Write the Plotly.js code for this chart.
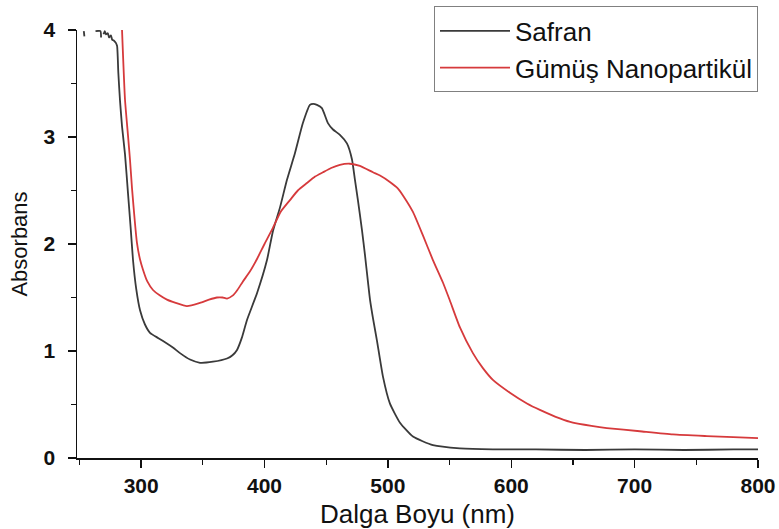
<!DOCTYPE html>
<html>
<head>
<meta charset="utf-8">
<script src="https://cdn.plot.ly/plotly-3.0.1.min.js"></script>
<style>html,body{margin:0;padding:0;background:#fff;}#chart{width:779px;height:529px;}</style>
</head>
<body>
<div id="chart"></div>
<script>
// Safran spectrum (wavelength nm, absorbance); null = gap in the saturated noisy region
const safranWl = [253.5, 254, 255, 263, 267, 267.5, 268.5, 269.5, 270.5, 271.5, 273, 274, 275.5, 276.5, 278, 279.5, 280.5, 281.5, 282.8, 284.5, 286.9, 289.3, 291.5, 293.4, 296, 299.1, 303, 307.2, 314, 320.9, 326, 331.5, 339.6, 347.7, 358.2, 369.6, 374, 377.7, 381.5, 385.8, 393.9, 402, 406.8, 412.5, 418.2, 424.7, 431.1, 436.8, 439.5, 442.5, 446.5, 451.4, 455.5, 461.1, 466.8, 470.9, 473.3, 475.7, 479, 481.4, 483.8, 485.5, 488, 491.1, 496, 501.6, 509.8, 520.3, 536.5, 558.4, 585.1, 620, 660, 700, 740, 780, 800];
const safranAbs = [3.99, 3.94, null, 3.99, 3.99, 3.93, null, 3.96, 3.99, 3.96, 3.97, 3.93, 3.95, 3.91, 3.90, 3.88, 3.85, 3.60, 3.35, 3.10, 2.84, 2.48, 2.15, 1.85, 1.58, 1.38, 1.25, 1.17, 1.12, 1.07, 1.03, 0.98, 0.92, 0.89, 0.90, 0.93, 0.96, 1.01, 1.12, 1.29, 1.54, 1.85, 2.12, 2.34, 2.60, 2.85, 3.13, 3.30, 3.31, 3.30, 3.27, 3.13, 3.07, 3.02, 2.94, 2.79, 2.60, 2.41, 2.13, 1.90, 1.65, 1.48, 1.30, 1.10, 0.76, 0.51, 0.33, 0.20, 0.12, 0.09, 0.08, 0.08, 0.075, 0.08, 0.075, 0.08, 0.08];

// Gümüş Nanopartikül spectrum
const agWl = [284.5, 286.9, 289.3, 291, 292.6, 294.8, 296.6, 299, 301.5, 305, 309.6, 315, 320.9, 328, 337.1, 347.7, 355, 361.5, 366, 369.6, 374.4, 378, 382.5, 388, 393.9, 400, 406.8, 413, 420.6, 427, 434.4, 441, 447.4, 454, 461.1, 469.2, 477.3, 487.9, 493.6, 501.6, 508, 513, 520.3, 528.4, 536.5, 544.6, 550.3, 558.4, 568.9, 577, 585.1, 598.9, 612.7, 623.2, 639.4, 649.9, 665, 677.5, 704.2, 731, 758.5, 780, 800];
const agAbs = [4.0, 3.35, 3.02, 2.78, 2.52, 2.22, 2.01, 1.86, 1.76, 1.65, 1.57, 1.52, 1.48, 1.45, 1.42, 1.45, 1.48, 1.50, 1.50, 1.49, 1.52, 1.57, 1.65, 1.74, 1.86, 2.00, 2.15, 2.30, 2.41, 2.50, 2.57, 2.63, 2.67, 2.71, 2.74, 2.75, 2.73, 2.67, 2.64, 2.58, 2.52, 2.44, 2.30, 2.08, 1.85, 1.64, 1.47, 1.22, 0.98, 0.84, 0.73, 0.61, 0.51, 0.45, 0.37, 0.33, 0.30, 0.28, 0.25, 0.22, 0.205, 0.195, 0.185];

const seriesNames = ["Safran", "Gümüş Nanopartikül"];
const xTicks = [300, 400, 500, 600, 700, 800];
const yTicks = [0, 1, 2, 3, 4];

const traces = [
  {x: safranWl, y: safranAbs, type: 'scatter', mode: 'lines', name: seriesNames[0],
   line: {color: '#3a3a3a', width: 1.8, shape: 'spline', smoothing: 0.5}, connectgaps: false},
  {x: agWl, y: agAbs, type: 'scatter', mode: 'lines', name: seriesNames[1],
   line: {color: '#d63a3c', width: 1.8, shape: 'spline', smoothing: 0.5}}
];

const font = 'Liberation Sans, Arial, sans-serif';
const layout = {
  width: 779, height: 529,
  margin: {l: 77, r: 21, t: 30, b: 71, autoexpand: false},
  paper_bgcolor: '#ffffff', plot_bgcolor: '#ffffff',
  showlegend: true,
  legend: {
    x: 1, xanchor: 'right', y: 1.055, yanchor: 'top',
    bordercolor: '#808080', borderwidth: 1, bgcolor: '#ffffff',
    font: {family: font, size: 26, color: '#111'},
    itemwidth: 70, tracegroupgap: 0
  },
  xaxis: {
    range: [248, 800], showgrid: false, zeroline: false,
    showline: true, linecolor: '#111', linewidth: 1.5,
    ticks: 'outside', ticklen: 8, tickwidth: 1.5, tickcolor: '#111',
    tickvals: xTicks, ticktext: xTicks.map(String),
    tickfont: {family: font, size: 21, color: '#111', weight: 'bold'},
    minor: {dtick: 50, tick0: 0, ticks: 'outside', ticklen: 5, tickwidth: 1.2, tickcolor: '#111'},
    title: {text: 'Dalga Boyu (nm)', font: {family: font, size: 26, color: '#111'}, standoff: 14},
    automargin: false
  },
  yaxis: {
    range: [0, 4], showgrid: false, zeroline: false,
    showline: true, linecolor: '#111', linewidth: 1.5,
    ticks: 'outside', ticklen: 8, tickwidth: 1.5, tickcolor: '#111',
    tickvals: yTicks, ticktext: yTicks.map(String), ticklabelstandoff: 8,
    tickfont: {family: font, size: 21, color: '#111', weight: 'bold'},
    minor: {dtick: 0.5, tick0: 0, ticks: 'outside', ticklen: 5, tickwidth: 1.2, tickcolor: '#111'},
    title: {text: 'Absorbans', font: {family: font, size: 22, color: '#111'}, standoff: 10},
    automargin: false
  }
};

Plotly.newPlot('chart', traces, layout, {displayModeBar: false, staticPlot: true});
</script>
</body>
</html>
